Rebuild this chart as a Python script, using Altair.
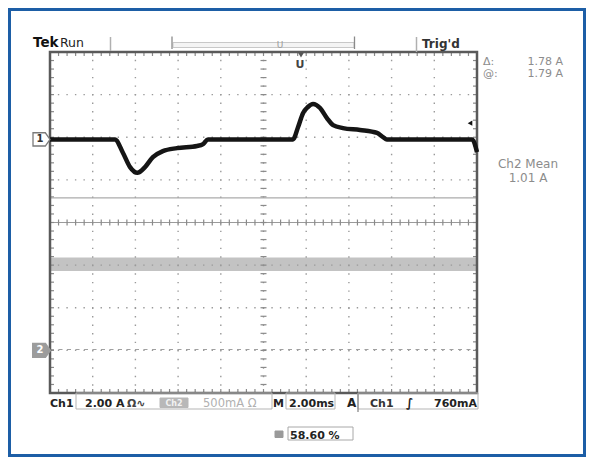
import altair as alt
import numpy as np
import pandas as pd

# Ch1 current trace: time from left screen edge (ms) and current relative to Ch1 ground (A)
time_ms = [0.0, 3.04, 3.42, 3.75, 4.09, 4.45, 4.82, 5.29, 5.95, 6.89, 7.17, 7.40,
           11.38, 11.62, 11.85, 12.08, 12.32, 12.65, 12.97, 13.26, 13.72, 14.52,
           15.32, 15.60, 15.78, 19.77, 20.0]
ch1_amps = [0.0, 0.0, -0.64, -1.30, -1.57, -1.30, -0.83, -0.55, -0.41, -0.31, -0.22, 0.0,
            0.0, 0.58, 1.23, 1.52, 1.66, 1.47, 1.00, 0.67, 0.53, 0.44,
            0.30, 0.11, 0.0, 0.0, -0.60]

time_per_div_ms = 2.0
ch1_amps_per_div = 2.0
ch2_amps_per_div = 0.5
ch1_ground_div = 1.95
ch2_ground_div = -3.0
ch2_mean_a = 1.01
ch2_ripple_a = 0.078
cursor_levels_a = [0.01, 1.79]
cursor_delta_a = 1.78
trigger_level_a = 0.76
duty_pct = 58.60

header_texts = ["Tek", "Run", "Trig'd"]
readout_texts = ["Δ:", f"{cursor_delta_a:.2f} A", "@:", f"{cursor_levels_a[1]:.2f} A",
                 "Ch2 Mean", f"{ch2_mean_a:.2f} A"]
footer_texts = ["Ch1", "2.00 A", "Ω∿", "Ch2", "500mA Ω", "M", "2.00ms", "A", "Ch1", "∫",
                "760mA", f"{duty_pct:.2f} %"]

# ---------------- layout ----------------
W, H = 427, 341
FONT = "DejaVu Sans"
DARK = "#222222"
GREY = "#8c8c8c"
XD = [0, 10 * time_per_div_ms]
xs = alt.Scale(domain=XD, nice=False, zero=False)
ys = alt.Scale(domain=[-4, 4], nice=False, zero=False)
ONE = pd.DataFrame({"k": [0]})


def X(f):
    return alt.X(f, scale=xs, axis=None)


def Y(f):
    return alt.Y(f, scale=ys, axis=None)


def txt(text, x, y, size=11, weight="bold", color=DARK, align="left"):
    return alt.Chart(ONE).mark_text(align=align, baseline="alphabetic", fontSize=size,
                                    fontWeight=weight, color=color, font=FONT).encode(
        x=alt.value(x), y=alt.value(y), text=alt.value(text))


def box(x0, y0, x1, y1, stroke, fill=None, sw=1.0):
    kw = dict(stroke=stroke, strokeWidth=sw)
    if fill is None:
        kw["fillOpacity"] = 0
    else:
        kw["fill"] = fill
    return alt.Chart(ONE).mark_rect(**kw).encode(
        x=alt.value(x0), x2=alt.value(x1), y=alt.value(y0), y2=alt.value(y1))


def vline(x, y0, y1, color, sw=1.0):
    return alt.Chart(ONE).mark_rule(color=color, strokeWidth=sw).encode(
        x=alt.value(x), y=alt.value(y0), y2=alt.value(y1))


layers = []

# outer blue frame
layers.append(box(-40.5, -42.5, 534.5, 403.5, "#1d5ea6", sw=3))

# ch2 band (mean +- ripple)
band_df = pd.DataFrame({
    "t0": [XD[0]], "t1": [XD[1]],
    "lo": [ch2_ground_div + (ch2_mean_a - ch2_ripple_a) / ch2_amps_per_div],
    "hi": [ch2_ground_div + (ch2_mean_a + ch2_ripple_a) / ch2_amps_per_div],
})
layers.append(alt.Chart(band_df).mark_rect(color="#c3c3c3").encode(
    x=X("t0:Q"), x2="t1:Q", y=Y("lo:Q"), y2="hi:Q"))

# graticule dotted lines
gx = pd.DataFrame({"t": [i * time_per_div_ms for i in range(1, 10)]})
gy = pd.DataFrame({"d": [float(i) for i in range(-3, 4) if i != 0]})
dot = dict(color="#9a9a9a", strokeWidth=1.4, strokeDash=[1.4, 7.14], strokeDashOffset=0.7)
layers.append(alt.Chart(gx).mark_rule(**dot).encode(x=X("t:Q"), y=alt.value(0), y2=alt.value(H)))
layers.append(alt.Chart(gy).mark_rule(**dot).encode(y=Y("d:Q"), x=alt.value(0), x2=alt.value(W)))

# centre horizontal line
layers.append(alt.Chart(pd.DataFrame({"d": [0.0]})).mark_rule(color="#9a9a9a", strokeWidth=1).encode(
    y=Y("d:Q"), x=alt.value(0), x2=alt.value(W)))

# minor tick positions (0.2 division)
mx = pd.DataFrame({"t": np.round(np.arange(0, 51) * 0.2 * time_per_div_ms, 4)})
my = pd.DataFrame({"d": np.round(np.arange(-20, 21) * 0.2, 4)})
tick = dict(color="#8a8a8a", strokeWidth=1.2)
# centre cross ticks
layers.append(alt.Chart(mx).mark_rule(**tick).encode(x=X("t:Q"), y=alt.value(H / 2 - 3), y2=alt.value(H / 2 + 3)))
layers.append(alt.Chart(my).mark_rule(**tick).encode(y=Y("d:Q"), x=alt.value(W / 2 - 3), x2=alt.value(W / 2 + 3)))
# edge ticks
layers.append(alt.Chart(mx).mark_rule(**tick).encode(x=X("t:Q"), y=alt.value(0), y2=alt.value(4)))
layers.append(alt.Chart(mx).mark_rule(**tick).encode(x=X("t:Q"), y=alt.value(H - 4), y2=alt.value(H)))
layers.append(alt.Chart(my).mark_rule(**tick).encode(y=Y("d:Q"), x=alt.value(0), x2=alt.value(4)))
layers.append(alt.Chart(my).mark_rule(**tick).encode(y=Y("d:Q"), x=alt.value(W - 4), x2=alt.value(W)))

# cursors (ch2 levels)
cur_df = pd.DataFrame({"d": [ch2_ground_div + c / ch2_amps_per_div for c in cursor_levels_a]})
layers.append(alt.Chart(cur_df.iloc[[1]]).mark_rule(color="#ababab", strokeWidth=1.2).encode(
    y=Y("d:Q"), x=alt.value(0), x2=alt.value(W)))
layers.append(alt.Chart(cur_df.iloc[[0]]).mark_rule(color="#a0a0a0", strokeWidth=1.2, strokeDash=[4, 4.5]).encode(
    y=Y("d:Q"), x=alt.value(0), x2=alt.value(W)))

# graticule frame
layers.append(box(0, 0, W, H, "#5a5a5a", sw=2.5))

# ch1 trace
trace_df = pd.DataFrame({"t": time_ms, "a": ch1_amps})
trace_df["d"] = ch1_ground_div + trace_df["a"] / ch1_amps_per_div
layers.append(alt.Chart(trace_df).mark_line(color="#151515", strokeWidth=4.5, interpolate="monotone").encode(
    x=X("t:Q"), y=Y("d:Q")))

# channel ground markers
TAG = "M -1 -0.78 L 0.45 -0.78 L 1 0 L 0.45 0.78 L -1 0.78 Z"
g1 = pd.DataFrame({"d": [ch1_ground_div]})
g2 = pd.DataFrame({"d": [ch2_ground_div]})
layers.append(alt.Chart(g1).mark_point(shape=TAG, size=289, filled=True, fill="#ffffff", stroke="#7a7a7a",
                                       strokeWidth=1.3, opacity=1).encode(x=alt.value(-8.5), y=Y("d:Q")))
layers.append(alt.Chart(g1).mark_text(text="1", fontSize=10, fontWeight="bold", color="#333333", font=FONT,
                                      baseline="middle", align="center").encode(x=alt.value(-10), y=Y("d:Q")))
layers.append(alt.Chart(g2).mark_point(shape=TAG, size=289, filled=True, fill="#9c9c9c", stroke="#9c9c9c",
                                       opacity=1).encode(x=alt.value(-8.5), y=Y("d:Q")))
layers.append(alt.Chart(g2).mark_text(text="2", fontSize=10, fontWeight="bold", color="#ffffff", font=FONT,
                                      baseline="middle", align="center").encode(x=alt.value(-10), y=Y("d:Q")))

# trigger level arrow
tl = pd.DataFrame({"d": [ch1_ground_div + trigger_level_a / ch1_amps_per_div]})
layers.append(alt.Chart(tl).mark_point(shape="triangle-left", size=28, filled=True, color="#111111",
                                       opacity=1).encode(x=alt.value(420), y=Y("d:Q")))

# trigger position marker
layers.append(alt.Chart(ONE).mark_point(shape="triangle-down", size=36, filled=True, color="#555555",
                                        opacity=1).encode(x=alt.value(251), y=alt.value(3)))
layers.append(txt("U", 250, 16, size=11, color="#444444", align="center"))

# header
layers.append(txt(header_texts[0], -17, -5, size=13.5, color="#111111"))
layers.append(txt(header_texts[1], 10, -5, size=12.5, weight="normal", color=DARK))
layers.append(vline(60.5, -15, -1, "#b0b0b0", 1.5))
layers.append(box(123, -9.5, 304, -4.5, "#c8c8c8", fill="#f4f4f4"))
layers.append(vline(122, -15.5, -3, "#8a8a8a", 1.3))
layers.append(vline(304.5, -15.5, -3, "#8a8a8a", 1.3))
layers.append(txt("U", 230, -4.5, size=9, weight="normal", color="#9a9a9a", align="center"))
layers.append(vline(366.5, -15, 0, "#b0b0b0", 1.5))
layers.append(txt(header_texts[2], 372, -4.5, size=12, color="#333333"))

# readouts
layers.append(txt(readout_texts[0], 433, 13, size=11, weight="normal", color=GREY))
layers.append(txt(readout_texts[1], 513, 13, size=11, weight="normal", color=GREY, align="right"))
layers.append(txt(readout_texts[2], 433, 25, size=11, weight="normal", color=GREY))
layers.append(txt(readout_texts[3], 513, 25, size=11, weight="normal", color=GREY, align="right"))
layers.append(txt(readout_texts[4], 478, 116, size=12, weight="normal", color=GREY, align="center"))
layers.append(txt(readout_texts[5], 478, 129.5, size=12, weight="normal", color=GREY, align="center"))

# footer
FY = 354.5
layers.append(box(26, 341, 222, 357, "#b5b5b5"))
layers.append(box(236, 341, 285, 357, "#b5b5b5"))
layers.append(box(308, 341, 428, 357, "#b5b5b5"))
layers.append(vline(308, 341, 360, "#8a8a8a", 1.3))
layers.append(txt(footer_texts[0], 0, FY))
layers.append(txt(footer_texts[1], 35, FY))
layers.append(txt(footer_texts[2], 77, FY, color="#444444"))
layers.append(box(110, 346, 138, 355.5, "#b8b8b8", fill="#b8b8b8"))
layers.append(txt(footer_texts[3], 124, 354, size=8, color="#f2f2f2", align="center"))
layers.append(txt(footer_texts[4], 153, FY, size=11.5, weight="normal", color="#b0b0b0"))
layers.append(txt(footer_texts[5], 223, FY))
layers.append(txt(footer_texts[6], 239, FY))
layers.append(txt(footer_texts[7], 297, FY, size=12))
layers.append(txt(footer_texts[8], 320, FY, color="#333333"))
layers.append(txt(footer_texts[9], 356, FY, size=12, color="#222222"))
layers.append(txt(footer_texts[10], 427, FY, align="right"))
layers.append(box(225, 379, 233, 385.5, "#9a9a9a", fill="#9a9a9a"))
layers.append(box(238, 375, 303, 388, "#a8a8a8"))
layers.append(txt(footer_texts[11], 240, 386.5))

chart = alt.layer(*layers).properties(
    width=W, height=H,
    padding={"left": 42, "top": 44, "right": 109, "bottom": 64},
    autosize="none",
    background="#ffffff",
).configure_view(stroke=None)

chart.save("out.html", embed_options={"renderer": "svg", "actions": False})
